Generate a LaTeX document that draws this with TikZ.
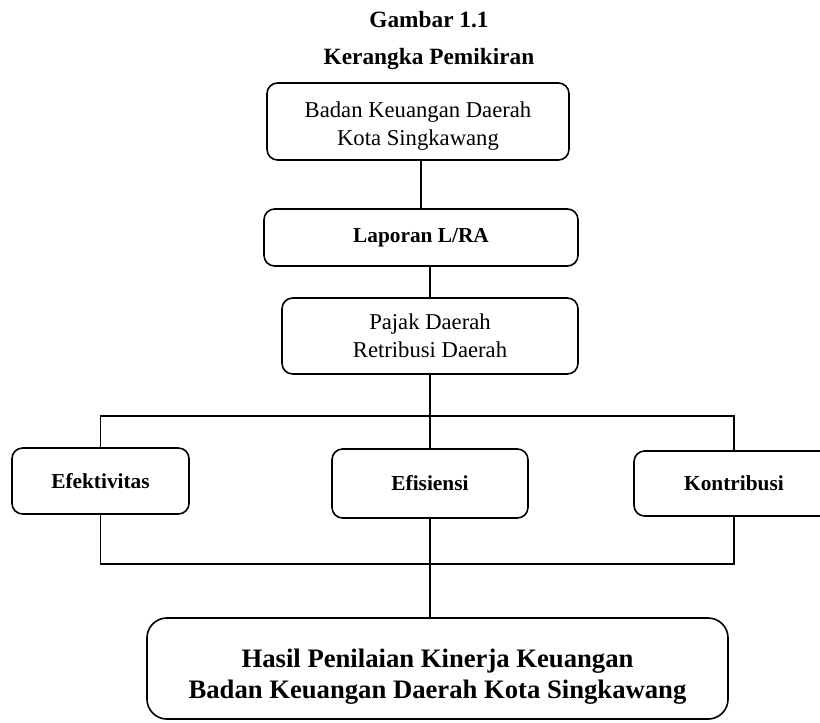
\documentclass[tikz,border=0pt]{standalone}
\usepackage{fontspec}
\setmainfont{Liberation Serif}
\usetikzlibrary{positioning, calc}
\tikzset{
    box/.style={draw, line width=1.2pt, rounded corners=8pt, align=center, inner sep=0pt, font=\fontsize{17}{21}\selectfont},
    boldbox/.style={box, font=\fontsize{16}{19}\selectfont\bfseries},
    bigbox/.style={box, rounded corners=15pt, font=\fontsize{20}{23.5}\selectfont\bfseries},
    link/.style={line width=1.2pt}
}

\begin{document}
\begin{tikzpicture}[x=0.75pt, y=-0.75pt]
    \clip (0,0) rectangle (820,722);

    % Title
    \node[font=\fontsize{17.5}{20}\selectfont\bfseries] (title) at (429,20) {Gambar 1.1};
    \node[font=\fontsize{17.5}{20}\selectfont\bfseries] (subtitle) at (429,59) {Kerangka Pemikiran};

    % Upper chain
    \node[box, minimum width=226.5pt, minimum height=57.8pt] (bkd) at (418,121.5) {\rule{0pt}{18pt}Badan Keuangan Daerah\\Kota Singkawang};
    \node[boldbox, minimum width=235.5pt, minimum height=42.8pt] (lra) at (421,237.5) {Laporan L/RA};
    \node[box, minimum width=222pt, minimum height=57pt] (pajak) at (430,336) {Pajak Daerah\\Retribusi Daerah};

    % Three measures
    \node[boldbox, minimum width=132.8pt, minimum height=49.5pt] (efek) at (100.5,481) {Efektivitas};
    \node[boldbox, minimum width=147pt, minimum height=51.8pt] (efis) at (430,483.5) {Efisiensi};
    \node[boldbox, minimum width=150pt, minimum height=48.8pt] (kontri) at (734,483.5) {Kontribusi};

    % Result
    \node[bigbox, minimum width=435.8pt, minimum height=75.8pt] (hasil) at (437.5,668.5) {\rule{0pt}{26pt}Hasil Penilaian Kinerja Keuangan\\Badan Keuangan Daerah Kota Singkawang};

    % Connectors
    \coordinate (jtop) at (430,416);
    \coordinate (jbot) at (430,564);
    \draw[link] (lra.north) -- (lra.north |- bkd.south);
    \draw[link] (pajak.north) -- (pajak.north |- lra.south);
    \draw[link] (pajak.south) -- (jtop);
    \draw[link] (efek.north) |- (jtop) -| (kontri.north);
    \draw[link] (jtop) -- (efis.north);
    \draw[link] (efek.south) |- (jbot) -| (kontri.south);
    \draw[link] (efis.south) -- (jbot);
    \draw[link] (jbot) -- (jbot |- hasil.north);
\end{tikzpicture}
\end{document}
